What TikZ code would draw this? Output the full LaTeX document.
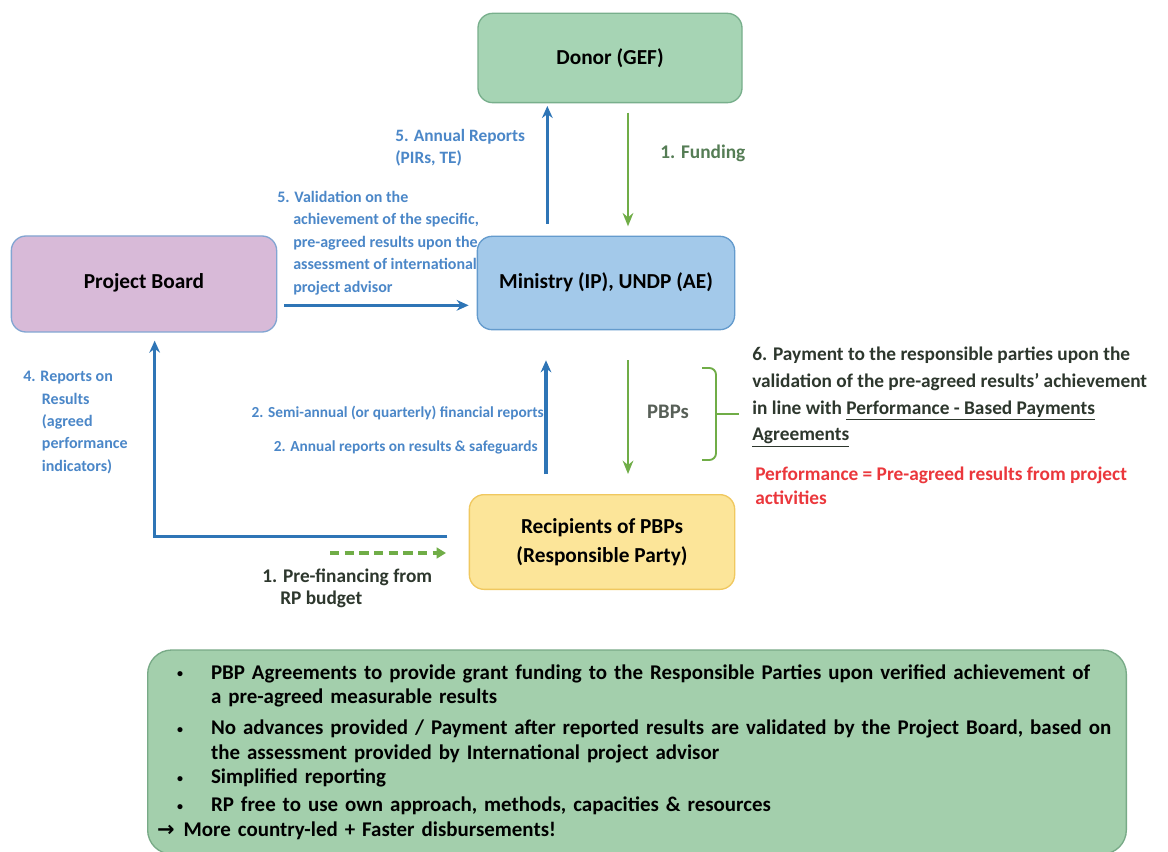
\documentclass[tikz,border=0pt]{standalone}
\usepackage{fontspec}
\setmainfont{Carlito}
\newfontfamily\arrowfont{DejaVu Sans}
\usetikzlibrary{arrows.meta,positioning,calc}
\definecolor{donorfill}{RGB}{166,212,180}
\definecolor{donordraw}{RGB}{120,175,140}
\definecolor{minfill}{RGB}{163,201,234}
\definecolor{mindraw}{RGB}{100,155,205}
\definecolor{boardfill}{RGB}{216,186,216}
\definecolor{boarddraw}{RGB}{130,165,210}
\definecolor{recfill}{RGB}{252,229,153}
\definecolor{recdraw}{RGB}{240,200,95}
\definecolor{notesfill}{RGB}{163,207,172}
\definecolor{notesdraw}{RGB}{120,170,135}
\definecolor{arrowblue}{RGB}{46,117,182}
\definecolor{labelblue}{RGB}{75,135,200}
\definecolor{arrowgreen}{RGB}{112,173,71}
\definecolor{darktext}{RGB}{45,55,45}
\definecolor{fundgreen}{RGB}{85,125,85}
\definecolor{redtext}{RGB}{235,55,60}
\tikzset{
>=Stealth,
main box/.style={draw, rounded corners=11pt, line width=1pt, inner sep=0pt, align=center,
  font=\fontsize{16}{21.5}\selectfont\bfseries},
blue arrow/.style={-{Stealth[length=9pt,width=8pt]}, line width=2.4pt, draw=arrowblue},
green arrow/.style={-{Stealth[length=10pt,width=8pt]}, line width=1.6pt, draw=arrowgreen},
blue label/.style={inner sep=0pt, align=left, text=labelblue, font=\fontsize{12}{16.8}\selectfont\bfseries},
dark label/.style={inner sep=0pt, align=left, text=darktext, font=\fontsize{14.5}{16.5}\selectfont\bfseries}}
\newcommand{\bul}[1]{\hspace*{15pt}\makebox[25.5pt][l]{\raisebox{1pt}{\fontsize{9}{9}\selectfont\textbullet}}\mbox{#1}}
\newcommand{\cont}[1]{\hspace*{40.5pt}\mbox{#1}}

\begin{document}
\begin{tikzpicture}[x=0.75pt,y=-0.75pt]
\useasboundingbox (0,0) rectangle (1168,852);
\fill[white] (0,0) rectangle (1168,852);

\node[blue label, font=\fontsize{13}{16.5}\selectfont\bfseries, anchor=north west] (annual) at (395,129)
  {5. Annual Reports\\(PIRs, TE)};
\node[dark label, text=fundgreen, anchor=west] (funding) at (660,153) {1. Funding};
\node[blue label, anchor=north west] (valid) at (277,191)
  {5. Validation on the\\
   \hspace*{12pt}achievement of the specific,\\
   \hspace*{12pt}pre-agreed results upon the\\
   \hspace*{12pt}assessment of international\\
   \hspace*{12pt}project advisor};
\node[blue label, anchor=north west] (reports) at (23,371)
  {4. Reports on\\
   \hspace*{14pt}Results\\
   \hspace*{14pt}(agreed\\
   \hspace*{14pt}performance\\
   \hspace*{14pt}indicators)};
\node[blue label, font=\fontsize{11.5}{14}\selectfont\bfseries, anchor=east] (semi) at (544,413)
  {2. Semi-annual (or quarterly) financial reports};
\node[blue label, font=\fontsize{11.5}{14}\selectfont\bfseries, anchor=east] (annres) at (538,447)
  {2. Annual reports on results \& safeguards};
\node[dark label, anchor=north west] (prefinlab) at (262,569)
  {1. Pre-financing from\\\hspace*{13.5pt}RP budget};
\node[dark label, font=\fontsize{15.5}{18}\selectfont\bfseries, text=darktext!80] (pbps) at (668,412) {PBPs};
\node[dark label, font=\fontsize{14.5}{20}\selectfont\bfseries, anchor=north west] (payment) at (752,347)
  {6. Payment to the responsible parties upon the\\
   validation of the pre-agreed results’ achievement\\
   in line with \underline{Performance - Based Payments}\\
   \underline{Agreements}};
\node[dark label, font=\fontsize{14.5}{18}\selectfont\bfseries, text=redtext, anchor=north west] (perf) at (755,467)
  {Performance = Pre-agreed results from project\\activities};

\node[main box, fill=donorfill, draw=donordraw, minimum width=198pt, minimum height=67pt] (donor) at (610,58) {Donor (GEF)};
\node[main box, fill=minfill, draw=mindraw, minimum width=193pt, minimum height=70pt] (ministry) at (606,283)
  {\raisebox{4pt}{Ministry (IP), UNDP (AE)}};
\node[main box, fill=boardfill, draw=boarddraw, minimum width=199pt, minimum height=72pt] (board) at (144,284)
  {\raisebox{4pt}{Project Board}};
\node[main box, fill=recfill, draw=recdraw, minimum width=199pt, minimum height=71pt] (recipients) at (602,542)
  {Recipients of PBPs\\(Responsible Party)};
\node[main box, fill=notesfill, draw=notesdraw, rounded corners=18pt, minimum width=734pt, minimum height=153pt,
  text width=720pt, align=left, font=\fontsize{15.7}{18.5}\selectfont\bfseries] (notes) at (637,752)
  {\bul{PBP Agreements to provide grant funding to the Responsible Parties upon verified achievement of}\\
   \cont{a pre-agreed measurable results}\\[4.5pt]
   \bul{No advances provided / Payment after reported results are validated by the Project Board, based on}\\
   \cont{the assessment provided by International project advisor}\\
   \bul{Simplified reporting}\\[2.5pt]
   \bul{RP free to use own approach, methods, capacities \& resources}\\
   \makebox[20pt][l]{\arrowfont\bfseries →}More country-led + Faster disbursements!};

\draw[blue arrow, shorten <=9pt, shorten >=2pt] ([xshift=-44pt]ministry.north) -- ([xshift=-44pt]ministry.north |- donor.south);
\draw[green arrow, shorten <=7pt, shorten >=7pt] ([xshift=13.5pt]donor.south) -- ([xshift=13.5pt]donor.south |- ministry.north);
\draw[blue arrow, line width=2pt, shorten <=5pt, shorten >=6pt] ([yshift=-16pt]board.east) -- ([yshift=-16pt]board.east -| ministry.west);
\draw[blue arrow, shorten <=15pt, shorten >=22.5pt] ([xshift=-42pt]recipients.north) -- ([xshift=-42pt]recipients.north |- ministry.south);
\draw[green arrow, shorten <=22.5pt, shorten >=15pt] ([xshift=16.5pt]ministry.south) -- ([xshift=16.5pt]ministry.south |- recipients.north);
\draw[blue arrow, shorten <=16pt, shorten >=6pt] ([yshift=4pt]recipients.west) -| ([xshift=8pt]board.south);

\coordinate (prefin) at (330,553);
\draw[green arrow, line width=2.4pt, dash pattern=on 7pt off 4pt, -{Triangle[length=7pt,width=8pt]}, shorten >=17pt]
  (prefin) -- (prefin -| recipients.west);

\draw[arrowgreen, line width=1.4pt, rounded corners=5pt] (702,368) -- (716,368) -- (716,460) -- (702,460);
\draw[arrowgreen, line width=1.4pt] (716,414) -- (739,414);
\end{tikzpicture}
\end{document}
